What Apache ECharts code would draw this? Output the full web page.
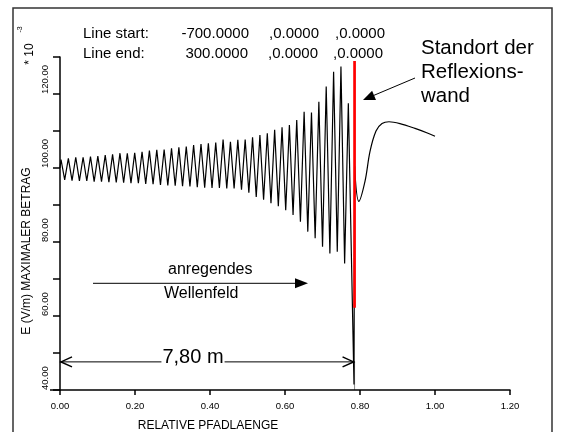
<!DOCTYPE html>
<html>
<head>
<meta charset="utf-8">
<script src="https://cdn.jsdelivr.net/npm/echarts@6/dist/echarts.min.js"></script>
<style>
  html, body { margin: 0; padding: 0; background: #fff; }
  #chart { width: 566px; height: 432px; }
</style>
</head>
<body>
<div id="chart"></div>
<script>
// Standing-wave field strength along the path (E in V/m, scaled by 1e-3)
const startPoint = [0, 100.0];

const peakX = [0.0027, 0.0223, 0.0420, 0.0616, 0.0813, 0.1009, 0.1206, 0.1402, 0.1599, 0.1795,
               0.1992, 0.2188, 0.2384, 0.2581, 0.2777, 0.2974, 0.3170, 0.3367, 0.3563, 0.3760,
               0.3956, 0.4153, 0.4349, 0.4545, 0.4742, 0.4938, 0.5135, 0.5331, 0.5528, 0.5724,
               0.5921, 0.6117, 0.6313, 0.6510, 0.6706, 0.6903, 0.7099, 0.7296, 0.7492, 0.7689];
const peakE = [102.3, 102.6, 102.9, 102.9, 103.1, 103.2, 103.5, 103.7, 104.0, 104.0,
               104.1, 104.4, 104.7, 104.9, 105.0, 105.3, 105.6, 105.8, 106.2, 106.5,
               106.7, 106.9, 107.7, 107.1, 107.6, 107.7, 108.3, 108.9, 109.4, 110.3,
               111.0, 111.6, 113.0, 115.2, 115.0, 117.9, 122.0, 126.0, 127.4, 117.5];

const troughX = [0.0125, 0.0321, 0.0518, 0.0714, 0.0911, 0.1107, 0.1304, 0.1500, 0.1697, 0.1893,
                 0.2090, 0.2286, 0.2482, 0.2679, 0.2875, 0.3072, 0.3268, 0.3465, 0.3661, 0.3858,
                 0.4054, 0.4251, 0.4447, 0.4643, 0.4840, 0.5036, 0.5233, 0.5429, 0.5626, 0.5822,
                 0.6019, 0.6215, 0.6411, 0.6608, 0.6804, 0.7001, 0.7197, 0.7394, 0.7590];
const troughE = [96.8, 96.6, 96.5, 96.5, 96.3, 96.3, 96.2, 96.1, 96.0, 95.9,
                 95.9, 95.7, 95.6, 95.4, 95.3, 95.2, 95.1, 95.0, 94.8, 94.7,
                 94.6, 94.6, 94.5, 94.5, 94.1, 93.3, 92.2, 91.4, 90.5, 89.7,
                 88.6, 87.3, 85.5, 82.8, 81.0, 78.7, 76.9, 77.4, 74.2];

// Collapse and recovery right at the reflecting wall
const wallX = [0.7840, 0.7855];
const wallE = [41.5, 100.5];

// Field behind the wall
const reflX = [0.7968, 0.8133, 0.8267, 0.8427, 0.8587, 0.8773, 0.9067, 0.9467, 0.9813, 1.0000];
const reflE = [91.0, 96.4, 104.5, 110.0, 112.0, 112.5, 112.0, 110.7, 109.4, 108.6];

// Wall marker (red) and the 7,80 m dimension
const wallPos = 0.7855;
const wallSpan = [62.2, 128.9];
const dimE = 47.6;

// Axis ticks and labels
const xRange = [0, 1.2, 0.2];
const yRange = [40, 130, 10];
const yLabelValues = [40, 60, 80, 100, 120];

const headerRows = [
  ['Line start:', '-700.0000', ',0.0000', ',0.0000'],
  ['Line end:', '300.0000', ',0.0000', ',0.0000']
];

const FONT = '"Liberation Sans", Arial, Helvetica, sans-serif';

const wave = [startPoint];
for (let i = 0; i < peakX.length; i++) {
  wave.push([peakX[i], peakE[i]]);
  if (i < troughX.length) wave.push([troughX[i], troughE[i]]);
}
for (let i = 0; i < wallX.length; i++) wave.push([wallX[i], wallE[i]]);

const refl = [[wallX[1], wallE[1]]];
for (let i = 0; i < reflX.length; i++) refl.push([reflX[i], reflE[i]]);

const chart = echarts.init(document.getElementById('chart'), null, { renderer: 'canvas' });

chart.setOption({
  animation: false,
  backgroundColor: '#fff',
  grid: { left: 60, right: 56, top: 57, bottom: 42 },
  xAxis: {
    type: 'value',
    min: xRange[0], max: xRange[1], interval: xRange[2],
    axisLine: { show: true, onZero: false, lineStyle: { color: '#000', width: 1.5 } },
    axisTick: { show: true, length: 5, lineStyle: { color: '#000', width: 1.5 } },
    axisLabel: {
      color: '#000', fontSize: 9.5, fontFamily: FONT, margin: 11,
      formatter: v => v.toFixed(2)
    },
    splitLine: { show: false }
  },
  yAxis: {
    type: 'value',
    min: yRange[0], max: yRange[1], interval: yRange[2],
    axisLine: { show: true, onZero: false, lineStyle: { color: '#000', width: 1.5 } },
    axisTick: { show: true, length: 7, lineStyle: { color: '#000', width: 1.5 } },
    axisLabel: {
      color: '#000', fontSize: 9.5, fontFamily: FONT, margin: 10,
      rotate: 90, align: 'left', verticalAlign: 'bottom',
      formatter: v => (yLabelValues.indexOf(Math.round(v)) >= 0 ? v.toFixed(2) : '')
    },
    splitLine: { show: false }
  },
  series: [
    {
      type: 'line', data: wave, symbol: 'none', z: 2,
      lineStyle: { color: '#000', width: 1.2 }
    },
    {
      type: 'line', data: refl, symbol: 'none', smooth: 0.35, z: 2,
      lineStyle: { color: '#000', width: 1.2 }
    },
    {
      type: 'line', data: [[wallPos, wallSpan[0]], [wallPos, wallSpan[1]]], symbol: 'none', z: 3,
      lineStyle: { color: '#ff0000', width: 2.7 }
    }
  ]
});

// Annotations
const pL = chart.convertToPixel({ gridIndex: 0 }, [0, dimE]);
const pR = chart.convertToPixel({ gridIndex: 0 }, [wallPos, dimE]);
const pAxis = chart.convertToPixel({ gridIndex: 0 }, [wallPos, yRange[0]]);
const dimY = pL[1];

function txt(x, y, text, size, opts) {
  return Object.assign({
    type: 'text', x: x, y: y, silent: true, z: 10,
    style: Object.assign({
      text: text, fill: '#000', fontSize: size, fontFamily: FONT,
      align: 'left', verticalAlign: 'middle'
    }, (opts && opts.style) || {})
  }, (opts && opts.el) || {});
}

const g = [];
// outer frame
g.push({ type: 'rect', silent: true, shape: { x: 13, y: 8, width: 539, height: 440 },
         style: { fill: null, stroke: '#333', lineWidth: 1.5 } });
// x axis line running slightly past the y axis
g.push({ type: 'line', silent: true, shape: { x1: 50, y1: 390, x2: 60, y2: 390 },
         style: { stroke: '#000', lineWidth: 1.5 } });

// header
const colX = [83, 249, 269, 335];
const colX2 = [83, 248, 268, 333];
headerRows.forEach((row, r) => {
  const y = r === 0 ? 33.5 : 53.5;
  const cx = r === 0 ? colX : colX2;
  row.forEach((t, i) => {
    g.push(txt(cx[i], y, t, 15, { style: { align: i === 1 ? 'right' : 'left' } }));
  });
});

// axis titles
g.push(txt(27, 251, 'E (V/m) MAXIMALER BETRAG', 12,
  { style: { align: 'center' }, el: { rotation: Math.PI / 2 } }));
g.push(txt(30, 54, '* 10', 12, { style: { align: 'center' }, el: { rotation: Math.PI / 2 } }));
g.push(txt(20.5, 29.5, '-3', 7, { style: { align: 'center' }, el: { rotation: Math.PI / 2 } }));
g.push(txt(208, 425.5, 'RELATIVE PFADLAENGE', 12, { style: { align: 'center' } }));

// wall caption with arrow
g.push(txt(421, 48, 'Standort der', 20.5));
g.push(txt(421, 72, 'Reflexions-', 20.5));
g.push(txt(421, 96, 'wand', 20.5));
g.push({ type: 'line', silent: true, shape: { x1: 415, y1: 78, x2: 374, y2: 95.3 },
         style: { stroke: '#000', lineWidth: 1 } });
g.push({ type: 'polygon', silent: true, shape: { points: [[363, 100], [376, 99.9], [372.1, 90.7]] },
         style: { fill: '#000' } });

// incident field caption with arrow
g.push(txt(168, 270, 'anregendes', 16));
g.push(txt(164, 294, 'Wellenfeld', 16));
g.push({ type: 'line', silent: true, shape: { x1: 93, y1: 283.3, x2: 296, y2: 283.3 },
         style: { stroke: '#000', lineWidth: 1 } });
g.push({ type: 'polygon', silent: true, shape: { points: [[308, 283.3], [295, 278.3], [295, 288.3]] },
         style: { fill: '#000' } });

// dimension line 7,80 m
g.push({ type: 'line', silent: true, shape: { x1: pR[0], y1: dimY, x2: pAxis[0], y2: pAxis[1] },
         style: { stroke: '#888', lineWidth: 1 } });
g.push({ type: 'line', silent: true, shape: { x1: pL[0], y1: dimY, x2: pR[0], y2: dimY },
         style: { stroke: '#000', lineWidth: 1 } });
g.push({ type: 'polyline', silent: true,
         shape: { points: [[pL[0] + 12, dimY - 5], [pL[0] + 1, dimY], [pL[0] + 12, dimY + 5]] },
         style: { stroke: '#000', lineWidth: 1.5, fill: null } });
g.push({ type: 'polyline', silent: true,
         shape: { points: [[pR[0] - 12, dimY - 5], [pR[0] - 1, dimY], [pR[0] - 12, dimY + 5]] },
         style: { stroke: '#000', lineWidth: 1.5, fill: null } });
g.push(txt(193, 357, '7,80 m', 20,
  { style: { align: 'center', backgroundColor: '#fff', padding: [0, 1] } }));

chart.setOption({ graphic: g });
</script>
</body>
</html>
